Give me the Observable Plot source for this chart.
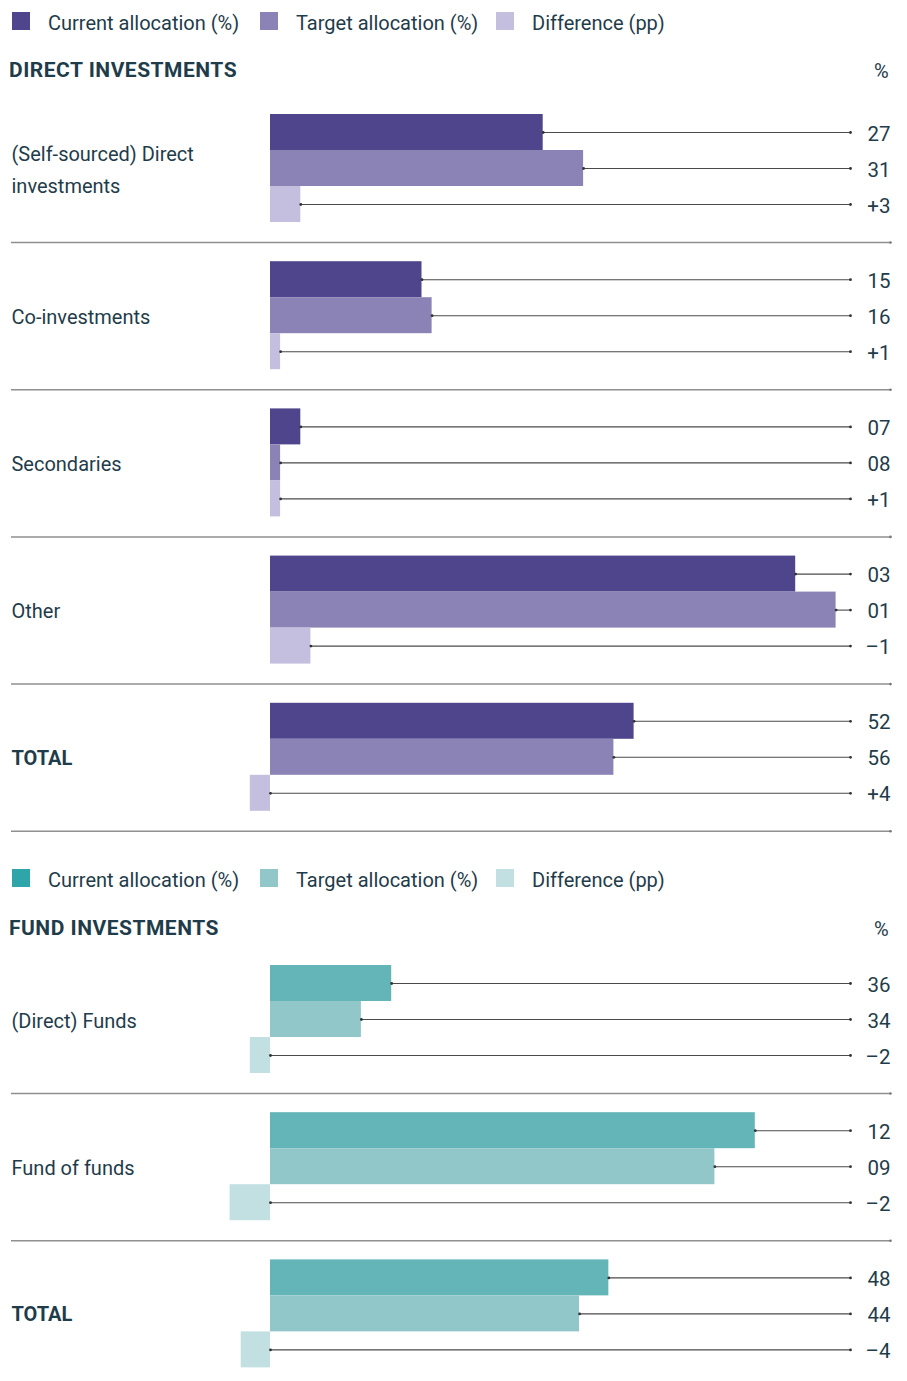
<!DOCTYPE html>
<html><head><meta charset="utf-8">
<script src="https://cdn.jsdelivr.net/npm/d3@7"></script>
<script src="https://cdn.jsdelivr.net/npm/@observablehq/plot@0.6"></script>
<style>
body{margin:0;background:#fff;font-family:Roboto,sans-serif;color:#1f3c4b;}
#page{position:relative;width:907px;height:1381px;overflow:hidden;}
.abs{position:absolute;line-height:20px;white-space:nowrap;}
.sw{position:absolute;width:18px;height:18px;}
.lg{font-size:20px;}
.title{font-size:21px;font-weight:700;letter-spacing:0.5px;}
.pct{font-size:20px;}
.chart{position:absolute;left:0;}
</style></head>
<body><div id="page"></div>
<script>
// ---------- data ----------
const seriesKeys = ["current", "target", "diff"];
const legendLabels = ["Current allocation (%)", "Target allocation (%)", "Difference (pp)"];

const directCategories = ["(Self-sourced) Direct\ninvestments", "Co-investments", "Secondaries", "Other", "TOTAL"];
const directCurrent = [27, 15, 3, 52, 36];
const directTarget = [31, 16, 1, 56, 34];
const directDiff = [3, 1, 1, 4, -2];
const directCurrentLabels = ["27", "15", "07", "03", "52"];
const directTargetLabels = ["31", "16", "08", "01", "56"];
const directDiffLabels = ["+3", "+1", "+1", "\u20131", "+4"];

const fundCategories = ["(Direct) Funds", "Fund of funds", "TOTAL"];
const fundCurrent = [12, 48, 33.5];
const fundTarget = [9, 44, 30.6];
const fundDiff = [-2, -4, -2.9];
const fundCurrentLabels = ["36", "12", "48"];
const fundTargetLabels = ["34", "09", "44"];
const fundDiffLabels = ["\u20132", "\u20132", "\u20134"];

const directColors = ["#4f458c", "#8b82b5", "#c4bfdf"];
const directLegendColors = ["#4f458c", "#8b82b5", "#c4bfdf"];
const fundColors = ["#63b5b8", "#92c7ca", "#c2e0e2"];
const fundLegendColors = ["#2ea6a9", "#92c7ca", "#c2e0e2"];

// ---------- layout ----------
const W = 907, ZERO = 270, PX = 10.1;
const TEXT = "#1f3c4b";
const page = document.getElementById("page");

function addText(txt, cls, left, top, extra) {
  const d = document.createElement("div");
  d.className = "abs " + cls;
  d.textContent = txt;
  d.style.left = left + "px";
  d.style.top = top + "px";
  if (extra) Object.assign(d.style, extra);
  page.appendChild(d);
}
function addLegend(colors, top) {
  const sx = [12, 260, 496], tx = [48, 296, 532];
  colors.forEach((c, i) => {
    const s = document.createElement("div");
    s.className = "sw";
    s.style.left = sx[i] + "px"; s.style.top = (top) + "px"; s.style.background = c;
    page.appendChild(s);
    addText(legendLabels[i], "lg", tx[i], top + 1);
  });
}

function section(cats, cur, tgt, dif, curL, tgtL, difL, colors, sepAll, top, marginBottom) {
  const rows = [];
  cats.forEach((c, i) => {
    rows.push({cat: c, series: "current", value: cur[i], label: curL[i]});
    rows.push({cat: c, series: "target", value: tgt[i], label: tgtL[i]});
    rows.push({cat: c, series: "diff", value: dif[i], label: difL[i]});
  });
  const catRows = cats.map(c => ({cat: c, series: "target"}));
  const sepRows = (sepAll ? cats : cats.slice(0, -1)).map(c => ({cat: c, series: "diff"}));
  const lineEnd = (850 - ZERO) / PX;
  const sepL = (11 - ZERO) / PX, sepR = (890 - ZERO) / PX;
  const n = cats.length, band = 108, gap = 39.2;
  const mt = 19;
  const height = mt + n * band + (n - 1) * gap + marginBottom;
  const start = d => Math.max(0, d.value);
  const chart = Plot.plot({
    width: W, height,
    marginTop: mt, marginBottom, marginLeft: 0, marginRight: 0,
    style: {fontFamily: "Roboto, sans-serif", fontSize: "20px", color: TEXT, background: "transparent", overflow: "visible"},
    x: {domain: [-ZERO / PX, (W - ZERO) / PX], range: [0, W], axis: null},
    y: {domain: seriesKeys, padding: 0, round: false, axis: null},
    fy: {domain: cats, paddingInner: gap / (band + gap), paddingOuter: 0, round: false, axis: null},
    color: {domain: seriesKeys, range: colors},
    marks: [
      Plot.ruleY(sepRows, {fy: "cat", y: "series", dy: 38, x1: () => sepL, x2: () => sepR, stroke: "#8f8f8f", strokeWidth: 1.5}),
      Plot.dot(sepRows, {fy: "cat", y: "series", dy: 38, x: () => sepR, r: 1.3, fill: "#777", stroke: "none"}),
      Plot.barX(rows, {fy: "cat", y: "series", x: "value", fill: "series"}),
      Plot.ruleY(rows, {fy: "cat", y: "series", x1: start, x2: () => lineEnd, stroke: "#4a4a4a", strokeWidth: 1.1}),
      Plot.dot(rows, {fy: "cat", y: "series", x: start, r: 1.4, fill: "#333", stroke: "none"}),
      Plot.dot(rows, {fy: "cat", y: "series", x: () => lineEnd, r: 1.4, fill: "#333", stroke: "none"}),
      Plot.text(rows, {fy: "cat", y: "series", text: "label", frameAnchor: "right", dx: -17, dy: 1.5, textAnchor: "end", fontSize: 20.5, fill: TEXT}),
      Plot.text(catRows.filter(d => d.cat !== "TOTAL"), {fy: "cat", y: "series", text: "cat", frameAnchor: "left", dx: 11, dy: -2, textAnchor: "start", lineHeight: 1.6, fontSize: 20, fill: TEXT}),
      Plot.text(catRows.filter(d => d.cat === "TOTAL"), {fy: "cat", y: "series", text: "cat", frameAnchor: "left", dx: 11, dy: 1, textAnchor: "start", fontSize: 20, fontWeight: 700, fill: TEXT})
    ]
  });
  chart.classList.add("chart");
  chart.style.top = top + "px";
  page.appendChild(chart);
}

// Direct investments
addLegend(directLegendColors, 12);
addText("DIRECT INVESTMENTS", "title", 9, 60);
addText("%", "pct", 874, 61);
section(directCategories, directCurrent, directTarget, directDiff,
        directCurrentLabels, directTargetLabels, directDiffLabels,
        directColors, true, 95, 25);

// Fund investments
addLegend(fundLegendColors, 869);
addText("FUND INVESTMENTS", "title", 9, 918);
addText("%", "pct", 874, 919);
section(fundCategories, fundCurrent, fundTarget, fundDiff,
        fundCurrentLabels, fundTargetLabels, fundDiffLabels,
        fundColors, false, 946, 14);
</script>
</body></html>
